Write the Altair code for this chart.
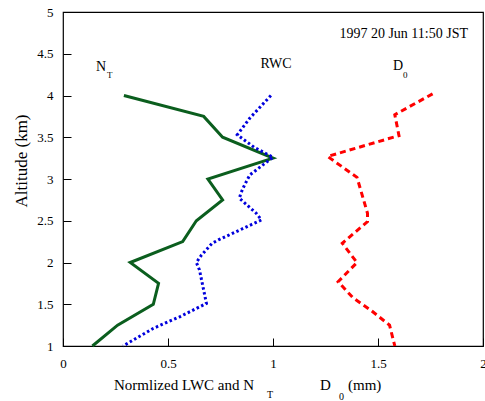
import altair as alt
import pandas as pd

# ---- data ----
nt_alt = [4.0, 3.75, 3.5, 3.25, 3.0, 2.75, 2.5, 2.25, 2.0, 1.75, 1.5, 1.25, 1.0]
nt_val = [0.29, 0.67, 0.76, 1.0, 0.69, 0.76, 0.635, 0.57, 0.32, 0.455, 0.43, 0.26, 0.14]

rwc_alt = [4.0, 3.73, 3.53, 3.38, 3.26, 3.05, 2.93, 2.83, 2.77, 2.59, 2.51, 2.27, 2.23, 2.09, 2.0, 1.91, 1.51, 1.35, 1.21, 1.0]
rwc_val = [0.99, 0.89, 0.83, 0.91, 1.0, 0.89, 0.865, 0.847, 0.84, 0.92, 0.945, 0.74, 0.71, 0.66, 0.635, 0.65, 0.683, 0.556, 0.429, 0.286]

d0_alt = [4.02, 3.77, 3.52, 3.27, 3.02, 2.59, 2.49, 2.23, 2.0, 1.77, 1.58, 1.42, 1.25, 1.0]
d0_val = [1.76, 1.58, 1.60, 1.26, 1.40, 1.45, 1.45, 1.33, 1.40, 1.31, 1.38, 1.47, 1.555, 1.58]

x_major = [0.0, 0.5, 1.0, 1.5, 2.0]
y_major = [1.0, 1.5, 2.0, 2.5, 3.0, 3.5, 4.0, 4.5, 5.0]

W, H = 420, 334
FONT = "Liberation Serif"

df_nt = pd.DataFrame({"v": nt_val, "alt": nt_alt, "i": range(len(nt_val))})
df_rwc = pd.DataFrame({"v": rwc_val, "alt": rwc_alt, "i": range(len(rwc_val))})
df_d0 = pd.DataFrame({"v": d0_val, "alt": d0_alt, "i": range(len(d0_val))})

xs = alt.Scale(domain=[0, 2], nice=False, zero=False)
ys = alt.Scale(domain=[1, 5], nice=False, zero=False)

# main axes: labels plus inward major ticks (negative tick size via expression)
green = alt.Chart(df_nt).mark_line(color="#0b5e1e", strokeWidth=3).encode(
    x=alt.X("v:Q", scale=xs, axis=alt.Axis(
        orient="bottom", values=x_major, ticks=True, tickSize=alt.ExprRef(expr="-8"),
        tickColor="black", tickWidth=1, domain=False, grid=False,
        title=None, labelPadding=19, labelFont=FONT, labelFontSize=13,
        labelColor="black", format="~g", labelFlush=False, labelOverlap=False)),
    y=alt.Y("alt:Q", scale=ys, axis=alt.Axis(
        orient="left", values=y_major, ticks=True, tickSize=alt.ExprRef(expr="-8"),
        tickColor="black", tickWidth=1, domain=False, grid=False,
        title=None, labelPadding=18, labelFont=FONT, labelFontSize=13,
        labelColor="black", format="~g", labelFlush=False, labelOverlap=False)),
    order="i:Q",
)

blue = alt.Chart(df_rwc).mark_line(color="#0000dd", strokeWidth=3, strokeDash=[2.5, 2.5]).encode(
    x=alt.X("v:Q", scale=xs),
    y=alt.Y("alt:Q", scale=ys),
    order="i:Q",
)

red = alt.Chart(df_d0).mark_line(color="#ff0000", strokeWidth=3, strokeDash=[6, 4]).encode(
    x=alt.X("v:Q", scale=xs),
    y=alt.Y("alt:Q", scale=ys),
    order="i:Q",
)

one = pd.DataFrame({"a": [0]})


def label(text, x, y, size, align="left", angle=0):
    return alt.Chart(one).mark_text(
        text=text, font=FONT, fontSize=size, align=align, baseline="alphabetic",
        color="black", angle=angle,
    ).encode(x=alt.value(x), y=alt.value(y))


texts = [
    label("N", 33, 59, 14),
    label("T", 44, 66, 9),
    label("RWC", 213, 56, 14, align="center"),
    label("D", 330, 58, 14),
    label("0", 340, 66, 9),
    label("1997 20 Jun 11:50 JST", 405, 26, 14, align="right"),
    label("Normlized LWC and N", 51, 378, 15),
    label("T", 204, 386, 10),
    label("D", 257, 378, 15),
    label("0", 276, 388, 10),
    label("(mm)", 285, 378, 15),
    alt.Chart(one).mark_text(
        text="Altitude (km)", font=FONT, fontSize=17, align="center",
        baseline="middle", color="black", angle=270,
    ).encode(x=alt.value(-41), y=alt.value(149)),
]

chart = alt.layer(green, blue, red, *texts).properties(
    width=W, height=H,
    autosize=alt.AutoSizeParams(type="none"),
    padding={"left": 63, "top": 12, "right": 2, "bottom": 55},
    background="white",
).configure_view(stroke="black", strokeWidth=1.2)

chart.save("out.html", embed_options={"renderer": "svg", "actions": False})
